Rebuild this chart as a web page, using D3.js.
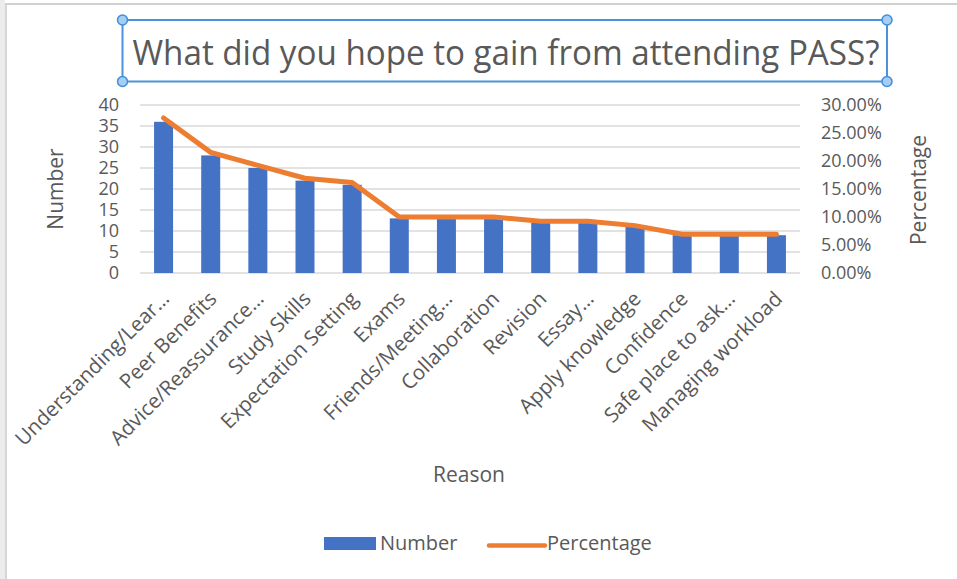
<!DOCTYPE html>
<html>
<head>
<meta charset="utf-8">
<script src="https://cdn.jsdelivr.net/npm/d3@7"></script>
<style>
  body { margin: 0; background: #fff; }
  text { font-family: "Open Sans", sans-serif; fill: #595959; }
</style>
</head>
<body>
<div id="chart"></div>
<script>
// chart data
const reasons = ["Understanding/Lear\u2026", "Peer Benefits", "Advice/Reassurance\u2026", "Study Skills",
    "Expectation Setting", "Exams", "Friends/Meeting\u2026", "Collaboration", "Revision", "Essay\u2026",
    "Apply knowledge", "Confidence", "Safe place to ask\u2026", "Managing workload"];
const numbers = [36, 28, 25, 22, 21, 13, 13, 13, 12, 12, 11, 9, 9, 9];
const percentages = [27.69, 21.54, 19.23, 16.92, 16.15, 10.00, 10.00, 10.00, 9.23, 9.23, 8.46, 6.92, 6.92, 6.92];
const numberTicks = [0, 5, 10, 15, 20, 25, 30, 35, 40];
const percentTicks = [0, 5, 10, 15, 20, 25, 30];

const W = 957, H = 579;
const plotLeft = 140, plotRight = 800, plotTop = 105, plotBottom = 273;

const svg = d3.select("#chart").append("svg")
    .attr("width", W)
    .attr("height", H);

// window frame bits
svg.append("rect").attr("x", 0).attr("y", 0).attr("width", 5).attr("height", H).attr("fill", "#ececec");
svg.append("line").attr("x1", 6).attr("x2", 6).attr("y1", 3).attr("y2", H).attr("stroke", "#d6d6d6").attr("stroke-width", 2);
svg.append("line").attr("x1", 5).attr("x2", W).attr("y1", 4).attr("y2", 4).attr("stroke", "#d0d0d0").attr("stroke-width", 2);

const x = d3.scaleBand().domain(reasons).range([plotLeft, plotRight]).paddingInner(0.6).paddingOuter(0.3);
const xc = d => x(d) + x.bandwidth() / 2;
const y = d3.scaleLinear().domain([0, 40]).range([plotBottom, plotTop]);
const y2 = d3.scaleLinear().domain([0, 30]).range([plotBottom, plotTop]);

// gridlines
svg.append("g")
    .selectAll("line")
    .data(numberTicks)
    .enter().append("line")
    .attr("x1", plotLeft).attr("x2", plotRight)
    .attr("y1", d => y(d)).attr("y2", d => y(d))
    .attr("stroke", "#d9d9d9").attr("stroke-width", 1.5);

// left axis
const yAxis = svg.append("g")
    .attr("transform", "translate(" + (plotLeft - 21) + ",0)")
    .call(d3.axisLeft(y).tickValues(numberTicks).tickSize(0).tickPadding(0));
yAxis.select(".domain").remove();
yAxis.selectAll("text").style("font-size", "18px").style("font-family", "Open Sans").attr("fill", "#595959");

// right axis
const y2Axis = svg.append("g")
    .attr("transform", "translate(" + (plotRight + 21) + ",0)")
    .call(d3.axisRight(y2).tickValues(percentTicks).tickSize(0).tickPadding(0)
        .tickFormat(d => d.toFixed(2) + "%"));
y2Axis.select(".domain").remove();
y2Axis.selectAll("text").style("font-size", "18px").style("font-family", "Open Sans").attr("fill", "#595959");

// bars
svg.append("g")
    .selectAll("rect")
    .data(reasons)
    .enter().append("rect")
    .attr("x", d => xc(d) - 9.5)
    .attr("width", 19)
    .attr("y", (d, i) => y(numbers[i]))
    .attr("height", (d, i) => y(0) - y(numbers[i]))
    .attr("fill", "#4472c4");

// percentage line
const line = d3.line()
    .x((d, i) => xc(reasons[i]))
    .y(d => y2(d));

svg.append("path")
    .datum(percentages)
    .attr("d", line)
    .attr("fill", "none")
    .attr("stroke", "#ed7d31")
    .attr("stroke-width", 5)
    .attr("stroke-linejoin", "round")
    .attr("stroke-linecap", "round");

// category labels
svg.append("g")
    .selectAll("text")
    .data(reasons)
    .enter().append("text")
    .attr("transform", d => "translate(" + (xc(d) + 2) + "," + 295 + ") rotate(-45)")
    .attr("text-anchor", "end")
    .attr("dy", "0.35em")
    .style("font-size", "20.5px")
    .text(d => d);

// axis titles
svg.append("text")
    .attr("transform", "translate(56,189) rotate(-90)")
    .attr("text-anchor", "middle")
    .attr("dy", "0.35em")
    .style("font-size", "21px")
    .text("Number");

svg.append("text")
    .attr("transform", "translate(919,190) rotate(-90)")
    .attr("text-anchor", "middle")
    .attr("dy", "0.35em")
    .style("font-size", "21px")
    .text("Percentage");

svg.append("text")
    .attr("x", 469).attr("y", 475)
    .attr("text-anchor", "middle")
    .attr("dy", "0.35em")
    .style("font-size", "21px")
    .text("Reason");

// title with selection box
svg.append("rect")
    .attr("x", 122.5).attr("y", 20).attr("width", 764.5).attr("height", 61.5)
    .attr("fill", "none").attr("stroke", "#4a93db").attr("stroke-width", 2);

svg.append("text")
    .attr("x", 506).attr("y", 53)
    .attr("text-anchor", "middle")
    .attr("dy", "0.35em")
    .attr("textLength", 747)
    .attr("lengthAdjust", "spacingAndGlyphs")
    .style("font-size", "34px")
    .text("What did you hope to gain from attending PASS?");

svg.append("g")
    .selectAll("circle")
    .data([[122.5, 20], [887, 20], [122.5, 81.5], [887, 81.5]])
    .enter().append("circle")
    .attr("cx", d => d[0]).attr("cy", d => d[1]).attr("r", 5)
    .attr("fill", "#a7cdf2").attr("stroke", "#3d8fdc").attr("stroke-width", 1.5);

// legend
svg.append("rect")
    .attr("x", 324).attr("y", 537).attr("width", 52).attr("height", 13)
    .attr("fill", "#4472c4");
svg.append("text")
    .attr("x", 380).attr("y", 543)
    .attr("dy", "0.35em")
    .style("font-size", "20px")
    .text("Number");

svg.append("line")
    .attr("x1", 489).attr("x2", 545).attr("y1", 545.5).attr("y2", 545.5)
    .attr("stroke", "#ed7d31").attr("stroke-width", 4.5).attr("stroke-linecap", "round");
svg.append("text")
    .attr("x", 547).attr("y", 543)
    .attr("dy", "0.35em")
    .style("font-size", "20px")
    .text("Percentage");
</script>
</body>
</html>
